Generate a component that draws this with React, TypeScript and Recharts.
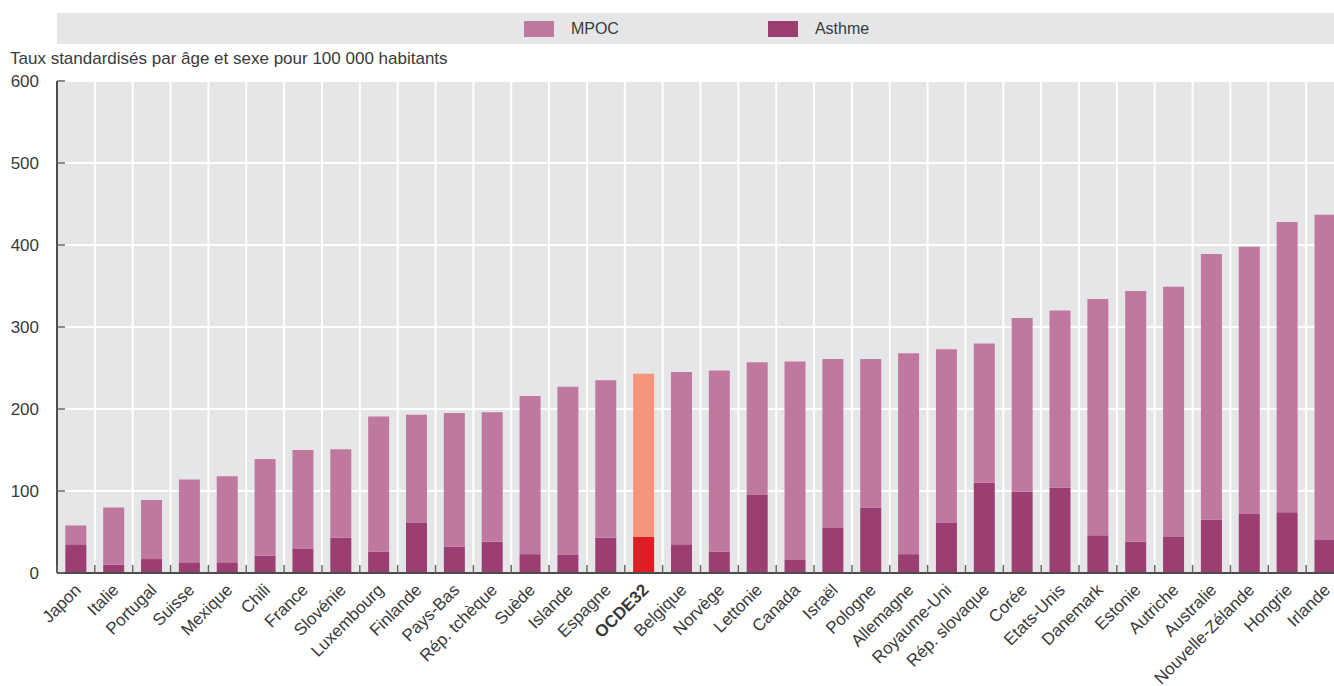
import React from 'react';
import { BarChart, Bar, XAxis, YAxis, CartesianGrid, Legend, Cell } from 'recharts';

const countries = ['Japon', 'Italie', 'Portugal', 'Suisse', 'Mexique', 'Chili', 'France', 'Slovénie', 'Luxembourg', 'Finlande', 'Pays-Bas', 'Rép. tchèque', 'Suède', 'Islande', 'Espagne', 'OCDE32', 'Belgique', 'Norvège', 'Lettonie', 'Canada', 'Israël', 'Pologne', 'Allemagne', 'Royaume-Uni', 'Rép. slovaque', 'Corée', 'Etats-Unis', 'Danemark', 'Estonie', 'Autriche', 'Australie', 'Nouvelle-Zélande', 'Hongrie', 'Irlande'];
const asthme = [35, 10, 17, 13, 13, 21, 30, 43, 26, 61, 32, 38, 23, 22, 43, 44, 35, 26, 95, 16, 55, 80, 23, 61, 110, 99, 104, 46, 38, 44, 65, 72, 74, 41];
const mpoc = [23, 70, 72, 101, 105, 118, 120, 108, 165, 132, 163, 158, 193, 205, 192, 199, 210, 221, 162, 242, 206, 181, 245, 212, 170, 212, 216, 288, 306, 305, 324, 326, 354, 396];
const yTicks = [0, 100, 200, 300, 400, 500, 600];
const highlight = 'OCDE32';

const seriesNames = { mpoc: 'MPOC', asthme: 'Asthme' };
const colors = { mpoc: '#c0799e', asthme: '#9b3f72', mpocHi: '#f4967a', asthmeHi: '#dc1e25' };

const data = countries.map((name, i) => ({ name, asthme: asthme[i], mpoc: mpoc[i] }));

const FONT = "'Liberation Sans', Arial, sans-serif";
const TEXT = '#3a3a3a';
const CHART_W = 1344;
const Y_AXIS_W = 57;
const BAND = (CHART_W - Y_AXIS_W) / countries.length;

const CatTick = (props: any) => {
  const { x, y, payload } = props;
  const bold = payload.value === highlight;
  const ax = x + 6;
  const ay = y + 18;
  return (
    <g>
      <line x1={x - BAND / 2} x2={x - BAND / 2} y1={y - 8} y2={y} stroke="#666" strokeWidth={1.5} />
      <text x={ax} y={ay} transform={`rotate(-45 ${ax} ${ay})`} textAnchor="end" fontSize={17} fontFamily={FONT}
        fill={TEXT} fontWeight={bold ? 'bold' : 'normal'}>{payload.value}</text>
    </g>
  );
};

const YTick = (props: any) => {
  const { x, y, payload } = props;
  return (
    <g>
      <line x1={x} x2={x + 8} y1={y} y2={y} stroke="#666" strokeWidth={1.5} />
      <text x={x - 18} y={y} dy="0.35em" textAnchor="end" fontSize={17} fontFamily={FONT} fill={TEXT}>{payload.value}</text>
    </g>
  );
};

const LegendContent = (props: any) => {
  const items = [...(props.payload || [])].reverse();
  return (
    <div style={{ width: '100%', height: '100%', background: '#e5e6e8', display: 'flex', justifyContent: 'center', alignItems: 'center', gap: 149, paddingLeft: 2, boxSizing: 'border-box' }}>
      {items.map((it: any) => (
        <div key={it.value} style={{ display: 'flex', alignItems: 'center' }}>
          <div style={{ width: 30, height: 16, background: it.color, marginRight: 17 }} />
          <span style={{ fontSize: 16, fontFamily: FONT, color: TEXT }}>{it.value}</span>
        </div>
      ))}
    </div>
  );
};

const verticalGen = ({ offset }: any) => {
  const n = countries.length;
  const out: number[] = [];
  for (let i = 0; i <= n; i++) out.push(offset.left + (i * offset.width) / n);
  return out;
};

export default function App() {
  return (
    <div style={{ position: 'absolute', left: 0, top: 0, width: 1334, height: 686, overflow: 'hidden', background: '#fff' }}>
      <div style={{ position: 'absolute', left: 10, top: 49, fontSize: 17, fontFamily: FONT, color: TEXT, whiteSpace: 'nowrap', lineHeight: '20px' }}>
        Taux standardisés par âge et sexe pour 100 000 habitants
      </div>
      <BarChart width={CHART_W} height={686} data={data} margin={{ top: 81, right: 0, bottom: 0, left: 0 }} barCategoryGap="22%">
        <CartesianGrid fill="#e5e6e8" fillOpacity={1} stroke="#ffffff" strokeWidth={2} verticalCoordinatesGenerator={verticalGen} />
        <XAxis dataKey="name" type="category" interval={0} height={113} tickSize={0} tickMargin={0}
          tickLine={false} axisLine={{ stroke: '#4d4d4d', strokeWidth: 2 }} tick={<CatTick />} />
        <YAxis width={Y_AXIS_W} domain={[0, 600]} ticks={yTicks} tickSize={0} tickMargin={0} tickLine={false}
          axisLine={{ stroke: '#4d4d4d', strokeWidth: 2 }} tick={<YTick />} interval={0} />
        <Legend verticalAlign="middle" align="center" layout="horizontal" content={<LegendContent />}
          wrapperStyle={{ position: 'absolute', top: 13, left: 57, width: 1277, height: 31 }} />
        <Bar dataKey="asthme" name={seriesNames.asthme} stackId="s" fill={colors.asthme} isAnimationActive={false}>
          {data.map((d) => <Cell key={d.name} fill={d.name === highlight ? colors.asthmeHi : colors.asthme} />)}
        </Bar>
        <Bar dataKey="mpoc" name={seriesNames.mpoc} stackId="s" fill={colors.mpoc} isAnimationActive={false}>
          {data.map((d) => <Cell key={d.name} fill={d.name === highlight ? colors.mpocHi : colors.mpoc} />)}
        </Bar>
      </BarChart>
    </div>
  );
}
